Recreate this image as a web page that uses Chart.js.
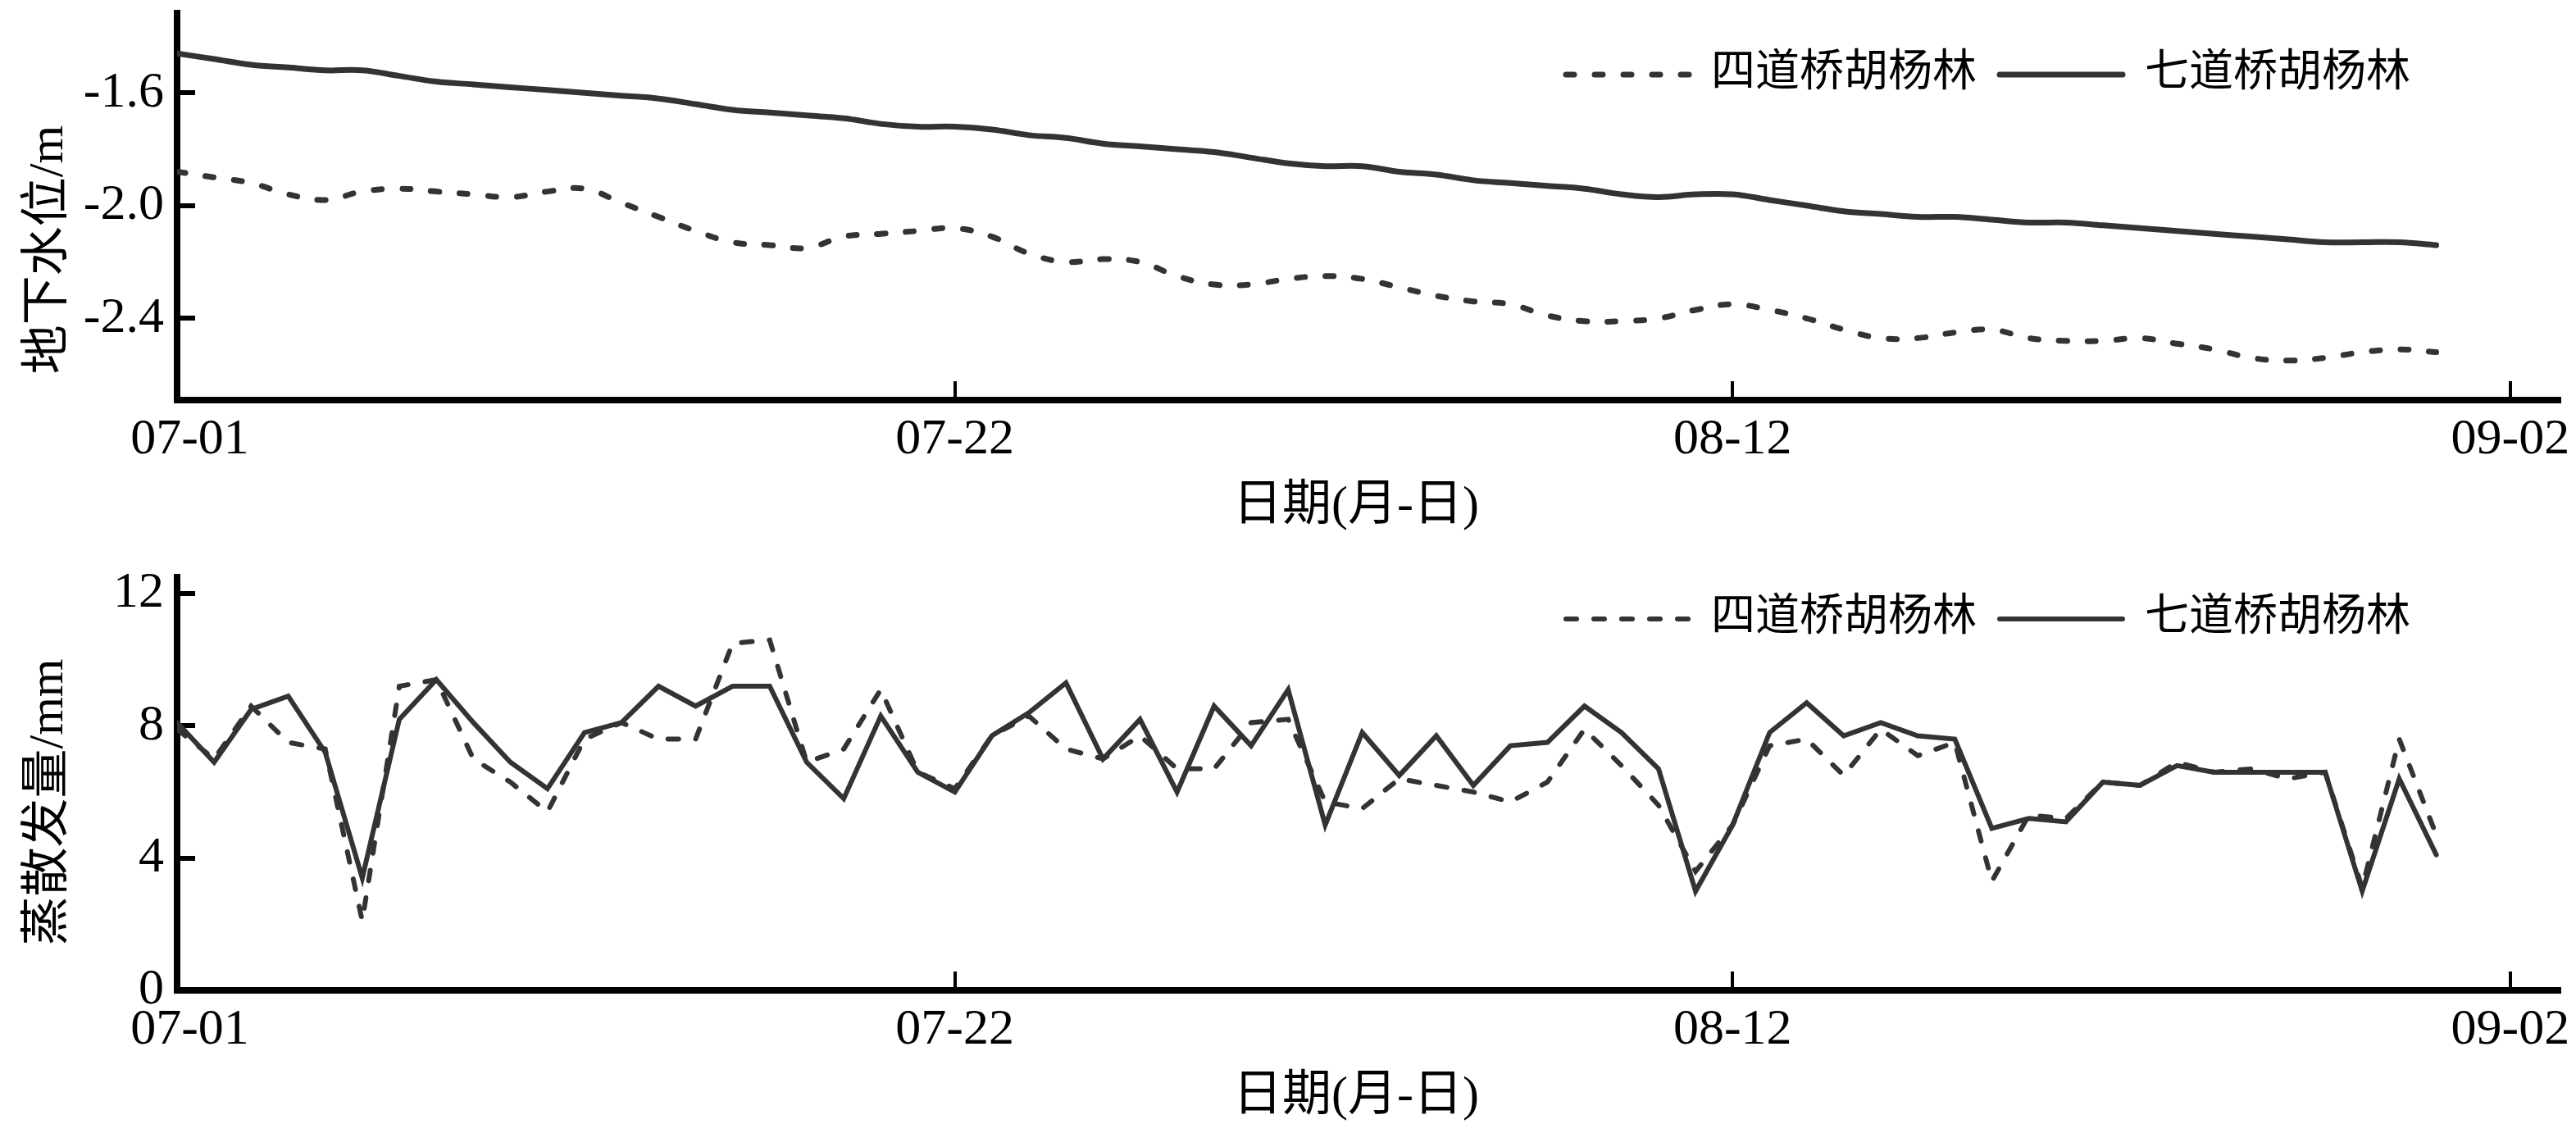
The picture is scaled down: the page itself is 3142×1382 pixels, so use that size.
<!DOCTYPE html>
<html>
<head>
<meta charset="utf-8">
<script src="https://cdn.jsdelivr.net/npm/chart.js@4.4.1/dist/chart.umd.min.js"></script>
<style>
  html, body { margin: 0; padding: 0; background: #fff; }
  #wrap { position: relative; width: 3142px; height: 1382px; }
  canvas { position: absolute; left: 0; }
  #gw { top: 0; }
  #et { top: 690px; }
</style>
</head>
<body>
<div id="wrap">
  <canvas id="gw" width="3142" height="690"></canvas>
  <canvas id="et" width="3142" height="692"></canvas>
</div>
<script>
// dates 07-01 .. 08-31
const dates = [
  '07-01','07-02','07-03','07-04','07-05','07-06','07-07','07-08','07-09','07-10',
  '07-11','07-12','07-13','07-14','07-15','07-16','07-17','07-18','07-19','07-20',
  '07-21','07-22','07-23','07-24','07-25','07-26','07-27','07-28','07-29','07-30',
  '07-31','08-01','08-02','08-03','08-04','08-05','08-06','08-07','08-08','08-09',
  '08-10','08-11','08-12','08-13','08-14','08-15','08-16','08-17','08-18','08-19',
  '08-20','08-21','08-22','08-23','08-24','08-25','08-26','08-27','08-28','08-29',
  '08-30','08-31'
];
const tickDays = [0, 21, 42, 63];
const tickLabels = ['07-01', '07-22', '08-12', '09-02'];

// 地下水位 (m)
const gwSidao = [
  -1.88, -1.90, -1.92, -1.96, -1.98, -1.95, -1.94, -1.95, -1.96, -1.97,
  -1.95, -1.94, -1.99, -2.04, -2.09, -2.13, -2.14, -2.15, -2.11, -2.10,
  -2.09, -2.08, -2.11, -2.17, -2.20, -2.19, -2.20, -2.25, -2.28, -2.28,
  -2.26, -2.25, -2.26, -2.29, -2.32, -2.34, -2.35, -2.39, -2.41, -2.41,
  -2.40, -2.37, -2.35, -2.37, -2.40, -2.44, -2.47, -2.47, -2.45, -2.44,
  -2.47, -2.48, -2.48, -2.47, -2.49, -2.51, -2.54, -2.55, -2.54, -2.52,
  -2.51, -2.52
];
const gwQidao = [
  -1.46, -1.48, -1.50, -1.51, -1.52, -1.52, -1.54, -1.56, -1.57, -1.58,
  -1.59, -1.60, -1.61, -1.62, -1.64, -1.66, -1.67, -1.68, -1.69, -1.71,
  -1.72, -1.72, -1.73, -1.75, -1.76, -1.78, -1.79, -1.80, -1.81, -1.83,
  -1.85, -1.86, -1.86, -1.88, -1.89, -1.91, -1.92, -1.93, -1.94, -1.96,
  -1.97, -1.96, -1.96, -1.98, -2.00, -2.02, -2.03, -2.04, -2.04, -2.05,
  -2.06, -2.06, -2.07, -2.08, -2.09, -2.10, -2.11, -2.12, -2.13, -2.13,
  -2.13, -2.14
];

// 蒸散发量 (mm)
const etSidao = [
  7.9, 7.0, 8.6, 7.5, 7.3, 2.1, 9.2, 9.4, 7.0, 6.3,
  5.4, 7.6, 8.1, 7.6, 7.6, 10.5, 10.6, 6.9, 7.3, 9.1,
  6.6, 6.1, 7.7, 8.3, 7.3, 7.0, 7.7, 6.7, 6.7, 8.1,
  8.2, 5.7, 5.5, 6.4, 6.2, 6.0, 5.7, 6.3, 7.9, 6.8,
  5.6, 3.6, 5.0, 7.4, 7.6, 6.5, 7.9, 7.1, 7.5, 3.3,
  5.3, 5.2, 6.3, 6.2, 6.9, 6.6, 6.7, 6.4, 6.6, 3.1,
  7.6, 4.7
];
const etQidao = [
  8.1, 6.9, 8.5, 8.9, 7.2, 3.4, 8.2, 9.4, 8.1, 6.9,
  6.1, 7.8, 8.1, 9.2, 8.6, 9.2, 9.2, 6.9, 5.8, 8.3,
  6.6, 6.0, 7.7, 8.4, 9.3, 7.0, 8.2, 6.0, 8.6, 7.4,
  9.1, 5.0, 7.8, 6.5, 7.7, 6.2, 7.4, 7.5, 8.6, 7.8,
  6.7, 3.0, 5.0, 7.8, 8.7, 7.7, 8.1, 7.7, 7.6, 4.9,
  5.2, 5.1, 6.3, 6.2, 6.8, 6.6, 6.6, 6.6, 6.6, 3.0,
  6.4, 4.1
];

const gwTicks = [-2.4, -2.0, -1.6];
const etTicks = [0, 4, 8, 12];

const serif = '"Liberation Serif", "Times New Roman", "Noto Sans CJK SC", serif';
const tickFont = { family: serif, size: 62, lineHeight: 1.2 };
const titleFont = { family: serif, size: 60, lineHeight: 1.2 };

function pts(values) {
  return values.map((v, i) => ({ x: dates.indexOf(dates[i]), y: v }));
}

// legend drawn inside the plot, top right
const lineLegend = {
  id: 'lineLegend',
  afterDraw(chart, args, opts) {
    const { ctx, chartArea } = chart;
    ctx.save();
    ctx.font = '54px ' + serif;
    ctx.textBaseline = 'middle';
    const items = chart.data.datasets.map(ds => ({ ds, w: ctx.measureText(ds.label).width }));
    const total = items.reduce((s, it) => s + opts.lineLen + opts.gap + it.w, 0) + opts.spacing * (items.length - 1);
    let x = chartArea.right - opts.right - total;
    const y = chartArea.top + opts.top;
    items.forEach(it => {
      ctx.beginPath();
      ctx.setLineDash(it.ds.borderDash || []);
      ctx.lineWidth = it.ds.borderWidth;
      ctx.lineCap = it.ds.borderCapStyle || 'butt';
      ctx.strokeStyle = it.ds.borderColor;
      ctx.moveTo(x, y);
      ctx.lineTo(x + opts.lineLen, y);
      ctx.stroke();
      ctx.setLineDash([]);
      ctx.fillStyle = '#000';
      ctx.fillText(it.ds.label, x + opts.lineLen + opts.gap, y);
      x += opts.lineLen + opts.gap + it.w + opts.spacing;
    });
    ctx.restore();
  }
};

function panel(id, o) {
  return new Chart(document.getElementById(id), {
    type: 'line',
    data: { datasets: o.datasets },
    options: {
      responsive: false,
      animation: false,
      layout: { padding: { left: 0, right: 20, top: o.top, bottom: 0 } },
      plugins: {
        legend: { display: false },
        tooltip: { enabled: false },
        lineLegend: { lineLen: 150, gap: 27, spacing: 28, right: 182, top: o.legendTop }
      },
      scales: {
        x: {
          type: 'linear',
          min: 0,
          max: 64.33,
          afterBuildTicks: s => { s.ticks = tickDays.map(v => ({ value: v })); },
          afterFit: s => { s.height = o.xHeight; s.paddingLeft = 0; s.paddingRight = 0; },
          ticks: {
            // first label sits a little right of its tick in the original
            callback: v => (v === 0 ? '\u2002' : '') + tickLabels[tickDays.indexOf(v)],
            font: tickFont, color: '#000', padding: 35, maxRotation: 0, autoSkip: false
          },
          grid: { drawOnChartArea: false, drawTicks: true, tickLength: -23, lineWidth: 4, color: '#000' },
          border: { width: 8, color: '#000' },
          title: {
            display: true, text: '日期(月-日)  ', font: titleFont, color: '#000',
            padding: { top: 0, bottom: o.xTitlePad }
          }
        },
        y: {
          min: o.yMin,
          max: o.yMax,
          afterBuildTicks: s => { s.ticks = o.yTicks.map(v => ({ value: v })); },
          afterFit: s => { s.width = 216; s.paddingTop = 0; s.paddingBottom = 0; },
          ticks: { callback: o.yFmt, font: tickFont, color: '#000', padding: 38 },
          grid: { drawOnChartArea: false, drawTicks: true, tickLength: -22, lineWidth: 6, color: '#000' },
          border: { width: 8, color: '#000' },
          title: {
            display: true, text: o.yTitle, font: titleFont, color: '#000',
            padding: { top: 24, bottom: 0 }
          }
        }
      }
    },
    plugins: [lineLegend]
  });
}

panel('gw', {
  top: 16, xHeight: 202, xTitlePad: 36, legendTop: 75,
  yMin: -2.69, yMax: -1.317, yTicks: gwTicks,
  yFmt: v => v.toFixed(1),
  yTitle: '地下水位/m       ',
  datasets: [
    { label: '四道桥胡杨林', data: pts(gwSidao), borderColor: '#333', borderWidth: 7,
      borderDash: [10, 25], borderCapStyle: 'round', tension: 0.4, pointRadius: 0, fill: false },
    { label: '七道桥胡杨林', data: pts(gwQidao), borderColor: '#333', borderWidth: 7,
      borderCapStyle: 'round', tension: 0.4, pointRadius: 0, fill: false }
  ]
});

panel('et', {
  top: 14, xHeight: 174, xTitlePad: 8, legendTop: 51,
  yMin: 0, yMax: 12.5, yTicks: etTicks,
  yFmt: v => String(v),
  yTitle: '蒸散发量/mm   ',
  datasets: [
    { label: '四道桥胡杨林', data: pts(etSidao), borderColor: '#333', borderWidth: 6,
      borderDash: [13, 21], borderCapStyle: 'round', tension: 0, pointRadius: 0, fill: false },
    { label: '七道桥胡杨林', data: pts(etQidao), borderColor: '#333', borderWidth: 6,
      borderCapStyle: 'round', borderJoinStyle: 'miter', tension: 0, pointRadius: 0, fill: false }
  ]
});
</script>
</body>
</html>
